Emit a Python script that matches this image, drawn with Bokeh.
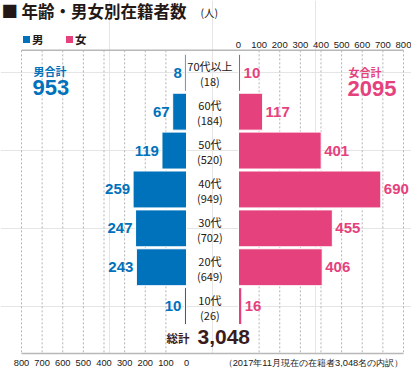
from bokeh.plotting import figure
from bokeh.models import (ColumnDataSource, Range1d, LinearAxis, FixedTicker,
                          Label, LabelSet, Legend, LegendItem)
from bokeh.core.properties import value
from bokeh.embed import file_html
from bokeh.resources import INLINE

# ---------------- data ----------------
age_groups = ["70代以上", "60代", "50代", "40代", "30代", "20代", "10代"]
male = [8, 67, 119, 259, 247, 243, 10]
female = [10, 117, 401, 690, 455, 406, 16]
axis_ticks = [0, 100, 200, 300, 400, 500, 600, 700, 800]
title_text = "年齢・男女別在籍者数"
unit_text = "(人)"
note_year, note_month = 2017, 11

# ---------------- style ----------------
BLUE = "#0071BB"
PINK = "#E5427D"
DARK = "#231815"
MAROON = "#3a1c1c"
GRID = "#b3b3b3"
LINE = "#b8b8b8"
JP = "Noto Sans CJK JP"
NUM = "Liberation Sans"

W, H = 411, 370
BORDER_B = 16
GAP = 126                 # half gap between the two panels (value units)
XMAX = 800 + GAP

# layout helpers: positions given in picture pixels
R_X0, R_X1 = 21, 403                  # where -XMAX / +XMAX lie
R_TOP, R_BOTTOM = 50, H - BORDER_B    # top rule / bottom rule
ROW_PX, ROW0_PX = 39, 72.5            # row pitch and first row centre
Y_TOP = -(ROW0_PX - R_TOP) / ROW_PX
Y_BOT = (R_BOTTOM - ROW0_PX) / ROW_PX


def dx(px):
    return -XMAX + (px - R_X0) * 2 * XMAX / (R_X1 - R_X0)


def dy(py):
    return Y_TOP + (py - R_TOP) * (Y_BOT - Y_TOP) / (R_BOTTOM - R_TOP)


n = len(age_groups)
rows = list(range(n))
male_total = sum(male)
female_total = sum(female)
grand_total = male_total + female_total

src = ColumnDataSource(dict(
    row=rows,
    age=age_groups,
    cnt=[f"({m + f})" for m, f in zip(male, female)],
    y_age=[r - 0.17 for r in rows],
    y_cnt=[r + 0.22 for r in rows],
    m_left=[-GAP - m for m in male],
    m_right=[-GAP] * n,
    f_left=[GAP] * n,
    f_right=[GAP + f for f in female],
    m_txt=[str(m) for m in male],
    f_txt=[str(f) for f in female],
))

p = figure(width=W, height=H, output_backend="svg", toolbar_location=None,
           x_range=Range1d(dx(0), dx(W)),
           y_range=Range1d(dy(R_BOTTOM), dy(0)),
           x_axis_location=None, y_axis_location=None,
           min_border_left=0, min_border_right=0, min_border_top=0,
           min_border_bottom=BORDER_B)
p.outline_line_color = None
p.background_fill_color = "white"
p.border_fill_color = "white"

# dotted vertical grid (from the top rule down)
grid_src = ColumnDataSource(dict(
    x=[-(GAP + t) for t in axis_ticks if t > 0] + [GAP + t for t in axis_ticks if t > 0]))
p.segment(x0="x", x1="x", y0=Y_TOP, y1=Y_BOT + 1, source=grid_src,
          line_color=GRID, line_dash="2 2", line_width=1)

# top rule + tick labels of the women's scale (0 .. 800)
p.segment(x0=-XMAX, x1=XMAX, y0=Y_TOP, y1=Y_TOP, line_color=LINE, line_width=1.5)
top_src = ColumnDataSource(dict(x=[GAP + t for t in axis_ticks],
                                lab=[str(t) for t in axis_ticks]))
p.text(x="x", y=dy(44.5), text="lab", source=top_src, text_align="center",
       text_baseline="middle", text_font=value(NUM), text_font_size="9.5px",
       text_color=DARK)

# bottom axis: men's scale (800 .. 0) plus the footnote on the same row
note = f"（{note_year}年{note_month}月現在の在籍者{grand_total:,}名の内訳）"
NOTE_X = dx(313)
overrides = {-(GAP + t): str(t) for t in axis_ticks}
overrides[NOTE_X] = note
bottom = LinearAxis(ticker=FixedTicker(ticks=[-(GAP + t) for t in axis_ticks] + [NOTE_X]),
                    major_label_overrides=overrides, bounds=(-XMAX, XMAX))
bottom.axis_line_color = LINE
bottom.axis_line_width = 1.5
bottom.major_tick_line_color = None
bottom.minor_tick_line_color = None
bottom.major_tick_out = 0
bottom.major_tick_in = 0
bottom.minor_tick_out = 0
bottom.minor_tick_in = 0
bottom.major_label_standoff = 4
bottom.major_label_text_font = NUM
bottom.major_label_text_font_size = "9.3px"
bottom.major_label_text_color = DARK
p.add_layout(bottom, "below")

# bars
BAR_H = 0.95
rm = p.hbar(y="row", left="m_left", right="m_right", height=BAR_H, source=src,
            fill_color=BLUE, line_color="white", line_width=1)
rf = p.hbar(y="row", left="f_left", right="f_right", height=BAR_H, source=src,
            fill_color=PINK, line_color="white", line_width=1)

# value labels
p.add_layout(LabelSet(x="m_left", y="row", text="m_txt", source=src, x_offset=-3,
                      text_align="right", text_baseline="middle",
                      text_font=value(NUM), text_font_style="bold",
                      text_font_size="15px", text_color=BLUE))
p.add_layout(LabelSet(x="f_right", y="row", text="f_txt", source=src, x_offset=3,
                      text_align="left", text_baseline="middle",
                      text_font=value(NUM), text_font_style="bold",
                      text_font_size="15px", text_color=PINK))

# middle category labels
MID_X = -GAP * 0.1
p.text(x=MID_X, y="y_age", text="age", source=src, text_align="center",
       text_baseline="middle", text_font=value(JP), text_font_size="11px",
       text_color=DARK)
p.text(x=MID_X, y="y_cnt", text="cnt", source=src, text_align="center",
       text_baseline="middle", text_font=value(JP), text_font_size="11px",
       text_color=DARK)

# legend (top-left, above the rule)
legend = Legend(items=[LegendItem(label="男", renderers=[rm]),
                       LegendItem(label="女", renderers=[rf])],
                orientation="horizontal",
                location=(21, R_BOTTOM - 48),
                glyph_width=10, glyph_height=10, label_standoff=1, spacing=12,
                padding=0, margin=0, border_line_color=None,
                background_fill_alpha=0, label_text_font=JP,
                label_text_font_size="11.5px", label_height=10,
                label_text_color=DARK, label_text_font_style="bold")
p.add_layout(legend, "center")

# titles and totals
def lab(x, y, text, size, color=DARK, bold=True, align="left", font=JP):
    p.add_layout(Label(x=x, y=y, text=text, text_font=font, text_font_size=size,
                       text_color=color, text_font_style="bold" if bold else "normal",
                       text_align=align, text_baseline="middle"))

lab(dx(1), dy(10.5), "■", "16.5px")
lab(dx(21), dy(10.5), title_text, "16.5px")
lab(dx(200), dy(12), unit_text, "10.5px", bold=False)

lab(dx(33), dy(71), "男合計", "11px", BLUE)
lab(dx(32), dy(87.5), f"{male_total}", "22px", BLUE, font=NUM)
lab(dx(348), dy(72), "女合計", "11px", PINK)
lab(dx(347), dy(88), f"{female_total}", "22px", PINK, font=NUM)

lab(dx(189), dy(338), "総計", "11.5px", MAROON, align="right")
lab(dx(197), dy(337.5), f"{grand_total:,}", "21px", MAROON, font=NUM)

open("out.html", "w").write(file_html(p, INLINE))
